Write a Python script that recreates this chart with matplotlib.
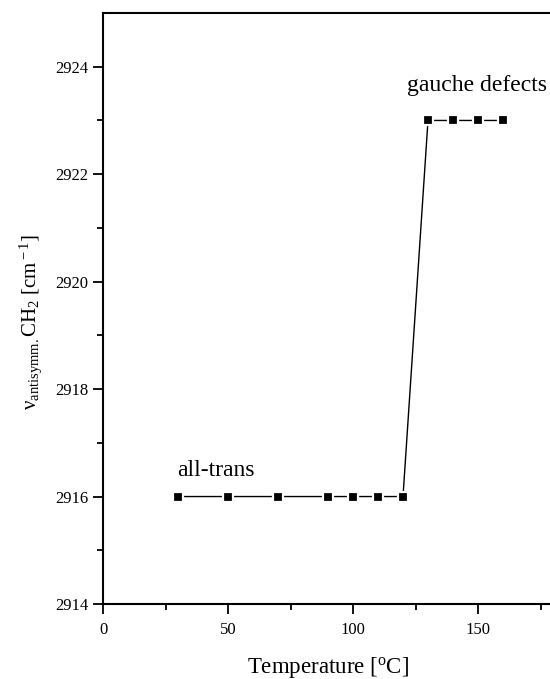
import matplotlib
matplotlib.use("Agg")
import matplotlib.pyplot as plt

temperature = [30, 50, 70, 90, 100, 110, 120, 130, 140, 150, 160]
wavenumber = [2916, 2916, 2916, 2916, 2916, 2916, 2916, 2923, 2923, 2923, 2923]
x_ticks = [0, 50, 100, 150]
y_ticks = [2914, 2916, 2918, 2920, 2922, 2924]

plt.rcParams['font.family'] = ['Liberation Serif', 'DejaVu Serif']
plt.rcParams['mathtext.fontset'] = 'custom'
plt.rcParams['mathtext.rm'] = 'Liberation Serif'
plt.rcParams['mathtext.it'] = 'Liberation Serif:italic'

fig = plt.figure(figsize=(5.5, 6.79), dpi=100)
ax = fig.add_axes([103/550, 1-604/679, 450/550, 591/679])

ax.plot(temperature, wavenumber, color='black', lw=1.0, marker='s', ms=7.5,
        markerfacecolor='black', markeredgecolor='white', markeredgewidth=1.6)

ax.set_xlim(0, 180)
ax.set_ylim(2914, 2925)
ax.set_xticks(x_ticks)
ax.set_xticks([25, 75, 125, 175], minor=True)
ax.set_yticks(y_ticks)
ax.set_yticks([2915, 2917, 2919, 2921, 2923], minor=True)
for s in ax.spines.values():
    s.set_linewidth(1.5)
ax.tick_params(axis='both', which='major', direction='out', length=7, width=1.3, labelsize=12)
ax.tick_params(axis='both', which='minor', direction='out', length=4, width=1.3)
ax.tick_params(axis='x', pad=6)

ax.set_xlabel('Temperature [$^{\\rm o}$C]', fontsize=16.5, labelpad=12)
ax.set_ylabel('ν$_{\\rm antisymm.}$CH$_2$ [cm$^{\\rm -1}$]', fontsize=15)
ax.yaxis.set_label_coords(-0.13, 0.477)

ax.text(29.5, 2916.48, 'all-trans', fontsize=17, ha='left', va='center')
ax.text(121.5, 2923.65, 'gauche defects', fontsize=17, ha='left', va='center')

fig.savefig('out.png', dpi=100)
